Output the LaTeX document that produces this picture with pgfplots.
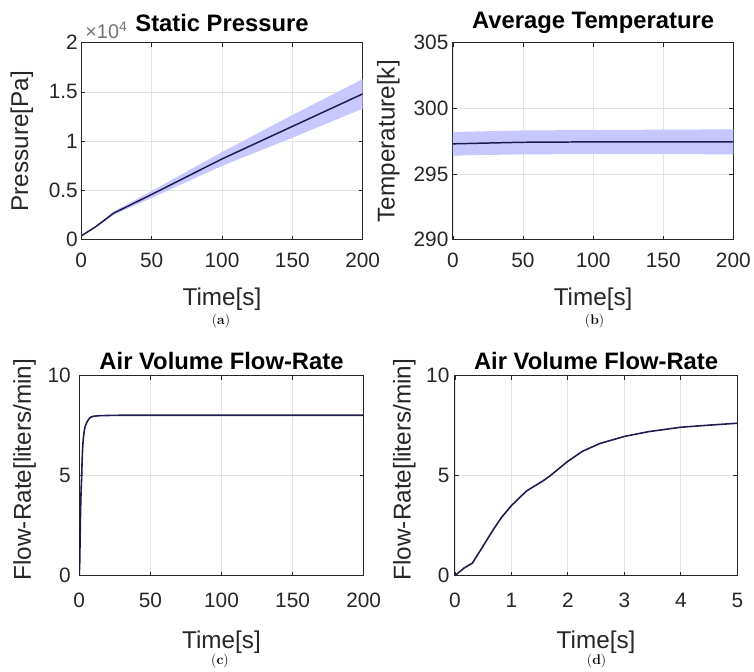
\documentclass[border=0pt]{standalone}
\usepackage{fontspec}
\usepackage{pgfplots}
\pgfplotsset{compat=1.18}
\usepackage{pgfplotstable}
\usepgfplotslibrary{fillbetween}
\newfontfamily\mfont{Liberation Sans}
\definecolor{band}{RGB}{200,200,255}
\definecolor{curve}{RGB}{28,28,78}
\definecolor{axc}{RGB}{38,38,38}

\pgfplotstableread{
t mean lo hi
0 400 375 425
10 1300 1230 1370
23 2700 2530 2870
50 4600 4250 4950
100 8200 7500 8900
150 11500 10350 12650
200 14800 13300 16300
}\pres

\pgfplotstableread{
t mean lo hi
0 297.30 296.40 298.20
20 297.35 296.45 298.25
50 297.42 296.50 298.32
100 297.45 296.52 298.35
150 297.45 296.52 298.38
200 297.45 296.50 298.40
}\temp

\pgfplotstableread{
t q
0 0
0.16 0.38
0.31 0.63
0.51 1.53
0.69 2.35
0.83 2.93
1.00 3.50
1.27 4.24
1.56 4.74
1.68 4.98
2.00 5.72
2.26 6.22
2.56 6.60
3.00 6.96
3.43 7.20
4.00 7.42
4.48 7.52
5.00 7.62
6.00 7.75
7.00 7.85
8.00 7.92
10.0 7.97
15.0 8.00
30.0 8.02
200 8.02
}\flow

\pgfplotsset{
  mat/.style={
    scale only axis,
    anchor=south west,
    axis line style={axc, line width=0.9pt},
    tick style={axc, line width=0.7pt},
    tick align=inside,
    major tick length=4pt,
    xtick pos=both, ytick pos=both,
    grid=major,
    major grid style={gray!22, line width=0.7pt},
    tick label style={font=\mfont\fontsize{21}{22}\selectfont, text=axc},
    /pgf/number format/assume math mode=true,
    xticklabel style={yshift=-10pt},
    every axis x label/.style={font=\mfont\fontsize{24.5}{26}\selectfont, text=axc, anchor=center},
    every axis y label/.style={font=\mfont\fontsize{24.5}{26}\selectfont, text=axc, anchor=center, rotate=90},
    title style={font=\mfont\bfseries\fontsize{24}{26}\selectfont, anchor=center},
    scaled ticks=false,
  }
}

\begin{document}
\begin{tikzpicture}
\path (0,0) rectangle (754pt,677pt);

% (a)
\begin{axis}[mat, at={(82pt,435pt)}, width=284pt, height=199pt,
  xmin=0, xmax=200, ymin=0, ymax=20000,
  xtick={0,50,100,150,200},
  ytick={0,5000,10000,15000,20000},
  yticklabels={0,0.5,1,1.5,2},
  title={Static Pressure},
  title style={at={(axis description cs:0.5,1.07)}},
  xlabel={Time[s]}, xlabel style={at={(axis description cs:0.5,-0.30)}},
  ylabel={Pressure[Pa]}, ylabel style={at={(axis description cs:-0.211,0.5)}},
]
\addplot[name path=hi, draw=none, forget plot] table[x=t,y=hi]{\pres};
\addplot[name path=lo, draw=none, forget plot] table[x=t,y=lo]{\pres};
\addplot[band, draw=none] fill between[of=hi and lo];
\addplot[curve, line width=1.5pt] table[x=t,y=mean]{\pres};
\end{axis}

% (b)
\begin{axis}[mat, at={(457pt,435pt)}, width=283pt, height=199pt,
  xmin=0, xmax=200, ymin=290, ymax=305,
  xtick={0,50,100,150,200},
  ytick={290,295,300,305},
  yticklabel style={xshift=-1pt},
  title={Average Temperature},
  title style={at={(axis description cs:0.5,1.07)}},
  xlabel={Time[s]}, xlabel style={at={(axis description cs:0.5,-0.30)}},
  ylabel={Temperature[k]}, ylabel style={at={(axis description cs:-0.230,0.5)}},
]
\addplot[name path=hi, draw=none, forget plot] table[x=t,y=hi]{\temp};
\addplot[name path=lo, draw=none, forget plot] table[x=t,y=lo]{\temp};
\addplot[band, draw=none] fill between[of=hi and lo];
\addplot[curve, line width=1.5pt] table[x=t,y=mean]{\temp};
\end{axis}

% (c)
\begin{axis}[mat, at={(80pt,96pt)}, width=287pt, height=202pt,
  xmin=0, xmax=200, ymin=0, ymax=10,
  xtick={0,50,100,150,200},
  ytick={0,5,10},
  xticklabel style={yshift=-4pt},
  yticklabel style={xshift=-5pt},
  title={Air Volume Flow-Rate},
  title style={at={(axis description cs:0.5,1.045)}},
  xlabel={Time[s]}, xlabel style={at={(axis description cs:0.5,-0.33)}},
  ylabel={Flow-Rate[liters/min]}, ylabel style={at={(axis description cs:-0.192,0.53)}},
]
\addplot[curve, line width=1.6pt] table[x=t,y=q]{\flow};
\end{axis}

% (d)
\begin{axis}[mat, at={(459pt,96pt)}, width=285pt, height=202pt,
  xmin=0, xmax=5, ymin=0, ymax=10,
  xtick={0,1,2,3,4,5},
  ytick={0,5,10},
  xticklabel style={yshift=-4pt},
  yticklabel style={xshift=-2pt},
  title={Air Volume Flow-Rate},
  title style={at={(axis description cs:0.5,1.045)}},
  xlabel={Time[s]}, xlabel style={at={(axis description cs:0.5,-0.33)}},
  ylabel={Flow-Rate[liters/min]}, ylabel style={at={(axis description cs:-0.179,0.53)}},
]
\addplot[curve, line width=1.6pt] table[x=t,y=q]{\flow};
\end{axis}

\node[anchor=base west, inner sep=0pt, text=black!55, font=\mfont\fontsize{20}{22}\selectfont] at (86pt,638pt) {×10\textsuperscript{4}};

\node[font=\fontsize{14}{16}\selectfont] at (223pt,353pt) {(\textbf{a})};
\node[font=\fontsize{14}{16}\selectfont] at (600pt,353pt) {(\textbf{b})};
\node[font=\fontsize{14}{16}\selectfont] at (222pt,10pt) {(\textbf{c})};
\node[font=\fontsize{14}{16}\selectfont] at (602pt,10pt) {(\textbf{d})};
\end{tikzpicture}
\end{document}
